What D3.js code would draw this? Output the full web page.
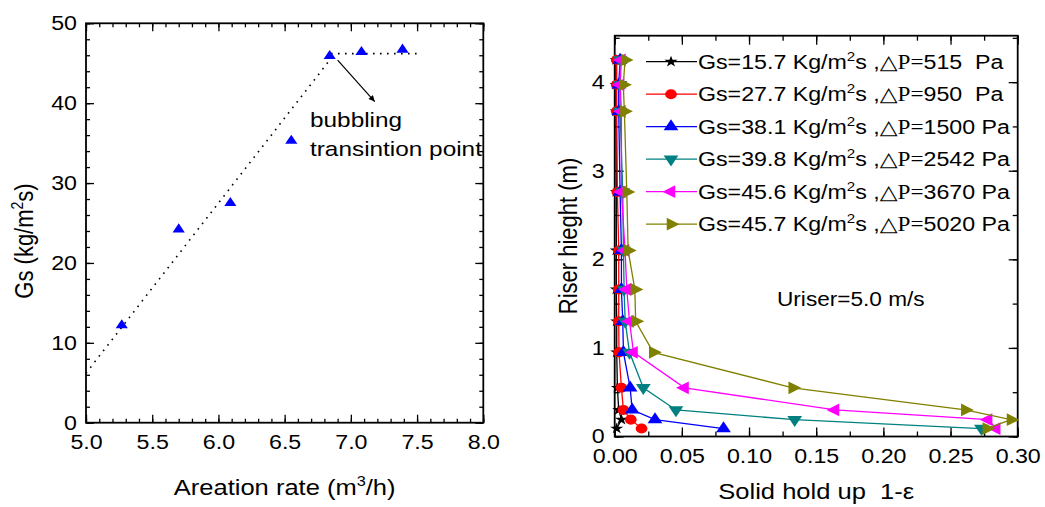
<!DOCTYPE html>
<html><head><meta charset="utf-8">
<script src="https://cdn.jsdelivr.net/npm/d3@7"></script>
<style>
html,body{margin:0;padding:0;background:#fff;}
svg{display:block;}
text{font-family:"Liberation Sans",Arial,sans-serif;fill:#000;white-space:pre;}
</style></head>
<body>
<svg id="chart" width="1045" height="507"></svg>
<script>
// ---------------- data ----------------
const aerationRate = [5.27, 5.70, 6.09, 6.55, 6.84, 7.08, 7.39];
const gsValues     = [12.2, 24.2, 27.5, 35.3, 45.9, 46.4, 46.7];
const fitRiseX = [5.0, 6.85];
const fitRiseY = [6.2, 45.6];
const fitFlatX = [6.85, 7.5];
const fitFlatY = [46.2, 46.2];
const leftXTicks = [5.0, 5.5, 6.0, 6.5, 7.0, 7.5, 8.0];
const leftYTicks = [0, 10, 20, 30, 40, 50];

const riserHeights = [4.25, 3.97, 3.67, 2.76, 2.10, 1.66, 1.30, 0.95, 0.55, 0.30, 0.19, 0.09];
const holdupGs157 = [0.001, 0.001, 0.001, 0.0012, 0.0012, 0.0012, 0.0015, 0.0015, 0.002, 0.003, 0.005, 0.0015];
const holdupGs277 = [0.0015, 0.0015, 0.0015, 0.002, 0.003, 0.003, 0.003, 0.0032, 0.005, 0.0065, 0.012, 0.020];
const holdupGs381 = [0.004, 0.003, 0.003, 0.004, 0.005, 0.005, 0.006, 0.0065, 0.0115, 0.013, 0.030, 0.081];
const holdupGs398 = [0.004, 0.004, 0.004, 0.006, 0.0065, 0.007, 0.0078, 0.011, 0.0213, 0.0456, 0.134, 0.273];
const holdupGs456 = [0.005, 0.004, 0.005, 0.005, 0.0077, 0.009, 0.011, 0.014, 0.052, 0.164, 0.278, 0.284];
const holdupGs457 = [0.0077, 0.0064, 0.0072, 0.009, 0.010, 0.015, 0.0156, 0.0287, 0.1325, 0.261, 0.295, 0.277];
const seriesGs = ["15.7", "27.7", "38.1", "39.8", "45.6", "45.7"];
const seriesDP = ["515  ", "950  ", "1500 ", "2542 ", "3670 ", "5020 "];
const rightXTicks = [0.00, 0.05, 0.10, 0.15, 0.20, 0.25, 0.30];
const rightYTicks = [0, 1, 2, 3, 4];

// ---------------- setup ----------------
const SX = 1.16; // horizontal stretch of the original picture
const svg = d3.select("#chart");

const seriesStyle = [
  {color: "#000000", sym: d3.symbolStar, size: 40, rot: 0},
  {color: "#ff0000", sym: d3.symbolCircle, size: 80, rot: 0},
  {color: "#0000ff", sym: d3.symbolTriangle, size: 70, rot: 0},
  {color: "#008080", sym: d3.symbolTriangle, size: 70, rot: 180},
  {color: "#ff00ff", sym: d3.symbolTriangle, size: 70, rot: -90},
  {color: "#808000", sym: d3.symbolTriangle, size: 70, rot: 90}
];
const seriesData = [holdupGs157, holdupGs277, holdupGs381, holdupGs398, holdupGs456, holdupGs457];

function stretchTickText(g) {
  g.selectAll(".tick text").each(function() {
    const t = d3.select(this);
    const x = +t.attr("x") || 0;
    t.attr("x", x / SX).attr("transform", `scale(${SX},1)`);
  });
}

function drawAxes(g, x, y, xMaj, xMin, yMaj, yMin, xFmt, yFmt, xPad, yPad, majLen, minLen) {
  const [x0, x1] = x.range();
  const [y0, y1] = y.range(); // y0 bottom
  const bMaj = g.append("g").attr("transform", `translate(0,${y0})`)
    .call(d3.axisBottom(x).tickValues(xMaj).tickSize(-majLen).tickPadding(xPad).tickFormat(xFmt));
  g.append("g").attr("transform", `translate(0,${y0})`)
    .call(d3.axisBottom(x).tickValues(xMin).tickSize(-minLen).tickFormat(""));
  g.append("g").attr("transform", `translate(0,${y1})`)
    .call(d3.axisTop(x).tickValues(xMaj).tickSize(-majLen).tickFormat(""));
  g.append("g").attr("transform", `translate(0,${y1})`)
    .call(d3.axisTop(x).tickValues(xMin).tickSize(-minLen).tickFormat(""));
  const lMaj = g.append("g").attr("transform", `translate(${x0},0)`)
    .call(d3.axisLeft(y).tickValues(yMaj).tickSize(-majLen).tickPadding(yPad).tickFormat(yFmt));
  g.append("g").attr("transform", `translate(${x0},0)`)
    .call(d3.axisLeft(y).tickValues(yMin).tickSize(-minLen).tickFormat(""));
  g.append("g").attr("transform", `translate(${x1},0)`)
    .call(d3.axisRight(y).tickValues(yMaj).tickSize(-majLen).tickFormat(""));
  g.append("g").attr("transform", `translate(${x1},0)`)
    .call(d3.axisRight(y).tickValues(yMin).tickSize(-minLen).tickFormat(""));
  g.selectAll(".domain").remove();
  g.selectAll(".tick line").attr("stroke", "#000").attr("stroke-width", 1.3);
  g.selectAll(".tick text").attr("font-size", 20).attr("font-family", '"Liberation Sans",Arial,sans-serif').attr("fill", "#000");
  stretchTickText(bMaj);
  stretchTickText(lMaj);
  g.append("rect").attr("x", x0).attr("y", y1).attr("width", x1 - x0).attr("height", y0 - y1)
    .attr("fill", "none").attr("stroke", "#000").attr("stroke-width", 1.8);
}

function rangeStep(a, b, s) { const out = []; for (let v = a; v <= b + 1e-9; v += s) out.push(+v.toFixed(4)); return out; }

// ---------------- left chart ----------------
const xL = d3.scaleLinear().domain([5.0, 8.0]).range([86, 483.3]);
const yL = d3.scaleLinear().domain([0, 50]).range([422.7, 23.3]);
const gL = svg.append("g");
drawAxes(gL, xL, yL, leftXTicks, rangeStep(5.0, 8.0, 0.1), leftYTicks, rangeStep(0, 50, 2),
  d3.format(".1f"), d3.format("d"), 12, 9, 8, 4);

const lineL = d3.line().x(d => xL(d[0])).y(d => yL(d[1]));
gL.append("path").datum(d3.zip(fitRiseX, fitRiseY)).attr("d", lineL)
  .attr("fill", "none").attr("stroke", "#000").attr("stroke-width", 1.6).attr("stroke-dasharray", "1.6,5.4");
gL.append("path").datum(d3.zip(fitFlatX, fitFlatY)).attr("d", lineL)
  .attr("fill", "none").attr("stroke", "#000").attr("stroke-width", 1.6).attr("stroke-dasharray", "1.6,5.4");

gL.selectAll(".ptL").data(d3.zip(aerationRate, gsValues)).join("path")
  .attr("d", d3.symbol(d3.symbolTriangle, 48))
  .attr("transform", d => `translate(${xL(d[0])},${yL(d[1])}) scale(${SX},1)`)
  .attr("fill", "#0000ff");

// arrow
svg.append("defs").append("marker").attr("id", "arr").attr("viewBox", "0 0 10 10")
  .attr("refX", 10).attr("refY", 5).attr("markerWidth", 9).attr("markerHeight", 6)
  .attr("markerUnits", "userSpaceOnUse").attr("orient", "auto")
  .append("path").attr("d", "M0,0 L10,5 L0,10 Z").attr("fill", "#000");
gL.append("line").attr("x1", xL(6.90)).attr("y1", yL(45.4)).attr("x2", xL(7.18)).attr("y2", yL(40.2))
  .attr("stroke", "#000").attr("stroke-width", 1.2).attr("marker-end", "url(#arr)");

function sText(parent, x, y, str, size, anchor) {
  return parent.append("text").attr("transform", `translate(${x},${y}) scale(${SX},1)`)
    .attr("font-size", size).attr("text-anchor", anchor || "start").text(str);
}
sText(gL, 310, 127, "bubbling", 21);
sText(gL, 310, 155.5, "transintion point", 21);

// left axis titles
const tXL = gL.append("text").attr("transform", `translate(${(86 + 483.3) / 2},495) scale(${SX},1)`)
  .attr("font-size", 22).attr("text-anchor", "middle");
tXL.append("tspan").text("Areation rate (m");
tXL.append("tspan").attr("font-size", 14).attr("dy", -9).text("3");
tXL.append("tspan").attr("dy", 9).text("/h)");

const tYL = gL.append("text").attr("transform", `translate(33,241) rotate(-90) scale(1,${SX})`)
  .attr("font-size", 22).attr("text-anchor", "middle");
tYL.append("tspan").text("Gs (kg/m");
tYL.append("tspan").attr("font-size", 14).attr("dy", -9).text("2");
tYL.append("tspan").attr("dy", 9).text("s)");

// ---------------- right chart ----------------
const xR = d3.scaleLinear().domain([0, 0.30]).range([614.7, 1017.7]);
const yR = d3.scaleLinear().domain([0, 4.524]).range([436.5, 35.7]);
const gR = svg.append("g");
drawAxes(gR, xR, yR, rightXTicks, rangeStep(0, 0.30, 0.025), rightYTicks, rangeStep(0, 4.5, 0.5),
  d3.format(".2f"), d3.format("d"), 12, 10, 9, 5);

const lineR = d3.line().x(d => xR(d[0])).y(d => yR(d[1]));
seriesData.forEach((vals, i) => {
  const st = seriesStyle[i];
  const pts = d3.zip(vals, riserHeights);
  const sg = gR.append("g");
  sg.append("path").datum(pts).attr("d", lineR).attr("fill", "none")
    .attr("stroke", st.color).attr("stroke-width", 1.3);
  sg.selectAll("path.m").data(pts).join("path").attr("class", "m")
    .attr("d", d3.symbol(st.sym, st.size))
    .attr("transform", d => `translate(${xR(d[0])},${yR(d[1])}) scale(${SX},1) rotate(${st.rot})`)
    .attr("fill", st.color);
});

// legend
const legY0 = 61.7, legDY = 32.5;
seriesStyle.forEach((st, i) => {
  const y = legY0 + i * legDY;
  const lg = gR.append("g");
  lg.append("line").attr("x1", 646).attr("x2", 697).attr("y1", y).attr("y2", y)
    .attr("stroke", st.color).attr("stroke-width", 1.3);
  lg.append("path").attr("d", d3.symbol(st.sym, st.size))
    .attr("transform", `translate(671,${y}) scale(${SX},1) rotate(${st.rot})`).attr("fill", st.color);
  const t = lg.append("text").attr("transform", `translate(698,${y + 7}) scale(${SX},1)`).attr("font-size", 20);
  t.append("tspan").text("Gs=" + seriesGs[i] + " Kg/m");
  t.append("tspan").attr("font-size", 13).attr("dy", -8).text("2");
  t.append("tspan").attr("dy", 8).text("s ,");
  t.append("tspan").attr("font-family", '"Liberation Serif","DejaVu Serif",serif').text("\u25B3P=");
  t.append("tspan").text(seriesDP[i] + "Pa");
});

sText(gR, 777, 306, "Uriser=5.0 m/s", 19.5);

sText(gR, (614.7 + 1017.7) / 2, 499, "Solid hold up  1-\u03B5", 22, "middle");
gR.append("text").attr("transform", `translate(577,236) rotate(-90) scale(1,${SX})`)
  .attr("font-size", 22).attr("text-anchor", "middle").text("Riser hieght (m)");
</script>
</body></html>
